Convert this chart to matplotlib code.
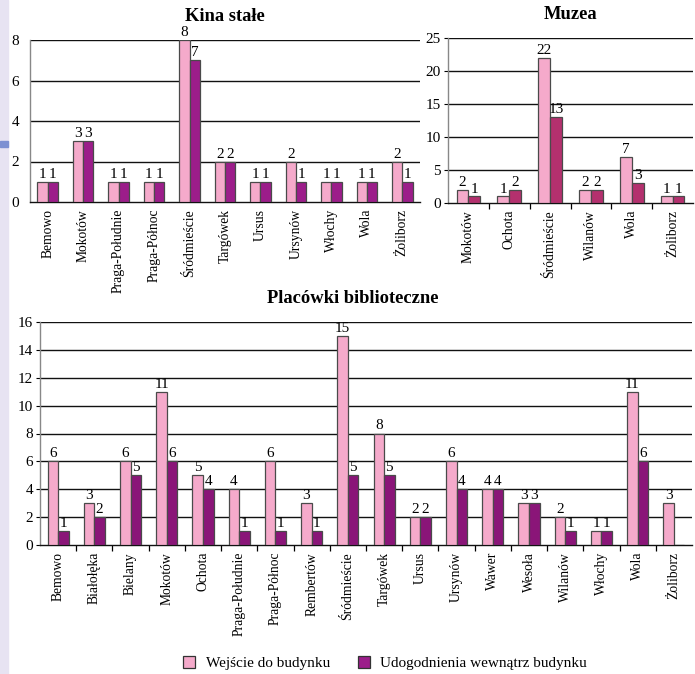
import matplotlib
matplotlib.use("Agg")
import matplotlib.pyplot as plt
import numpy as np
from matplotlib.patches import Rectangle

plt.rcParams['font.family'] = ['Liberation Serif', 'DejaVu Serif']

W, H = 695, 674

kina_cats = ["Bemowo", "Mokotów", "Praga-Południe", "Praga-Północ", "Śródmieście",
             "Targówek", "Ursus", "Ursynów", "Włochy", "Wola", "Żoliborz"]
kina_a = [1, 3, 1, 1, 8, 2, 1, 2, 1, 1, 2]
kina_b = [1, 3, 1, 1, 7, 2, 1, 1, 1, 1, 1]

muz_cats = ["Mokotów", "Ochota", "Śródmieście", "Wilanów", "Wola", "Żoliborz"]
muz_a = [2, 1, 22, 2, 7, 1]
muz_b = [1, 2, 13, 2, 3, 1]

lib_cats = ["Bemowo", "Białołęka", "Bielany", "Mokotów", "Ochota", "Praga-Południe",
            "Praga-Północ", "Rembertów", "Śródmieście", "Targówek", "Ursus", "Ursynów",
            "Wawer", "Wesoła", "Wilanów", "Włochy", "Wola", "Żoliborz"]
lib_a = [6, 3, 6, 11, 5, 4, 6, 3, 15, 8, 2, 6, 4, 3, 2, 1, 11, 3]
lib_b = [1, 2, 5, 6, 4, 1, 1, 1, 5, 5, 2, 4, 4, 3, 1, 1, 6, None]

legend_labels = ["Wejście do budynku", "Udogodnienia wewnątrz budynku"]

PINK = "#F5AACB"
PURPLE = "#9C1D8A"
LIBPURPLE = "#8A1578"
MUZPURPLE = "#B4306E"
EDGE = "#4a4a4a"

fig = plt.figure(figsize=(W / 100, H / 100), dpi=100)

# page artefact on the left
fig.patches.append(Rectangle((0, 0), 8 / W, 1, transform=fig.transFigure,
                             color="#E7E3F2", zorder=0))
fig.patches.append(Rectangle((0, 1 - 147 / H), 8 / W, 6 / H, transform=fig.transFigure,
                             color="#7D90D2", zorder=1))


def mkax(l, t, r, b):
    return fig.add_axes([l / W, 1 - b / H, (r - l) / W, (b - t) / H])


def draw(ax, cats, a, b, ymax, ystep, col_b, bw, title, fs_cat=9.8, xticks=False):
    x = np.arange(len(cats))
    ax.set_xlim(-0.5, len(cats) - 0.5)
    ax.set_ylim(0, ymax)
    ax.set_yticks(np.arange(0, ymax + 0.1, ystep))
    for yv in np.arange(ystep, ymax + 0.1, ystep):
        ax.axhline(yv, color="#111111", lw=1.0, zorder=1)
    av = [v if v is not None else 0 for v in a]
    bv = [v if v is not None else 0 for v in b]
    ax.bar(x - bw / 2, av, bw, color=PINK, edgecolor=EDGE, lw=0.9, zorder=3)
    ax.bar(x + bw / 2, bv, bw, color=col_b, edgecolor=EDGE, lw=0.9, zorder=3)
    off = ymax * 0.005
    for i in range(len(cats)):
        if a[i] is not None:
            ax.text(x[i] - bw / 2, a[i] + off, str(a[i]), ha="center", va="bottom",
                    fontsize=11, zorder=4)
        if b[i] is not None:
            ax.text(x[i] + bw / 2, b[i] + off, str(b[i]), ha="center", va="bottom",
                    fontsize=11, zorder=4)
    ax.set_xticks(x)
    ax.set_xticklabels(cats, rotation=90, fontsize=fs_cat)
    ax.tick_params(axis="x", length=0, pad=5)
    if xticks:
        ax.set_xticks(np.arange(0.5, len(cats) - 0.5, 1), minor=True)
        ax.tick_params(axis="x", which="minor", length=4, direction="out", width=0.9)
    ax.tick_params(axis="y", labelsize=11, length=3, direction="out", width=0.8, pad=2)
    for s in ["top", "right", "left"]:
        ax.spines[s].set_color("#888888")
        ax.spines[s].set_linewidth(1.0)
    ax.spines["top"].set_visible(False)
    ax.spines["right"].set_visible(False)
    ax.spines["bottom"].set_color("#111111")
    ax.spines["bottom"].set_linewidth(1.0)
    ax.set_title(title, fontsize=13.3, fontweight="bold", pad=14)


ax1 = mkax(30, 40, 420, 202)
draw(ax1, kina_cats, kina_a, kina_b, 8, 2, PURPLE, 0.29, "Kina stałe")
ax1.tick_params(axis="y", length=0, pad=8)

ax2 = mkax(448, 38, 693, 203)
draw(ax2, muz_cats, muz_a, muz_b, 25, 5, MUZPURPLE, 0.29, "Muzea", xticks=True)

ax3 = mkax(40, 322, 692, 545)
draw(ax3, lib_cats, lib_a, lib_b, 16, 2, LIBPURPLE, 0.29, "Placówki biblioteczne", xticks=True)
ax3.title.set_position((0.48, 1.0))

h1 = Rectangle((0, 0), 1, 1, facecolor=PINK, edgecolor="#333333", lw=0.9)
h2 = Rectangle((0, 0), 1, 1, facecolor=PURPLE, edgecolor="#333333", lw=0.9)
fig.legend([h1, h2], legend_labels, loc="center", bbox_to_anchor=(385 / W, 1 - 663 / H),
           ncol=2, frameon=False, fontsize=11, handlelength=0.8, handleheight=0.8,
           columnspacing=1.8, handletextpad=0.7)

fig.savefig("out.png", dpi=100)
